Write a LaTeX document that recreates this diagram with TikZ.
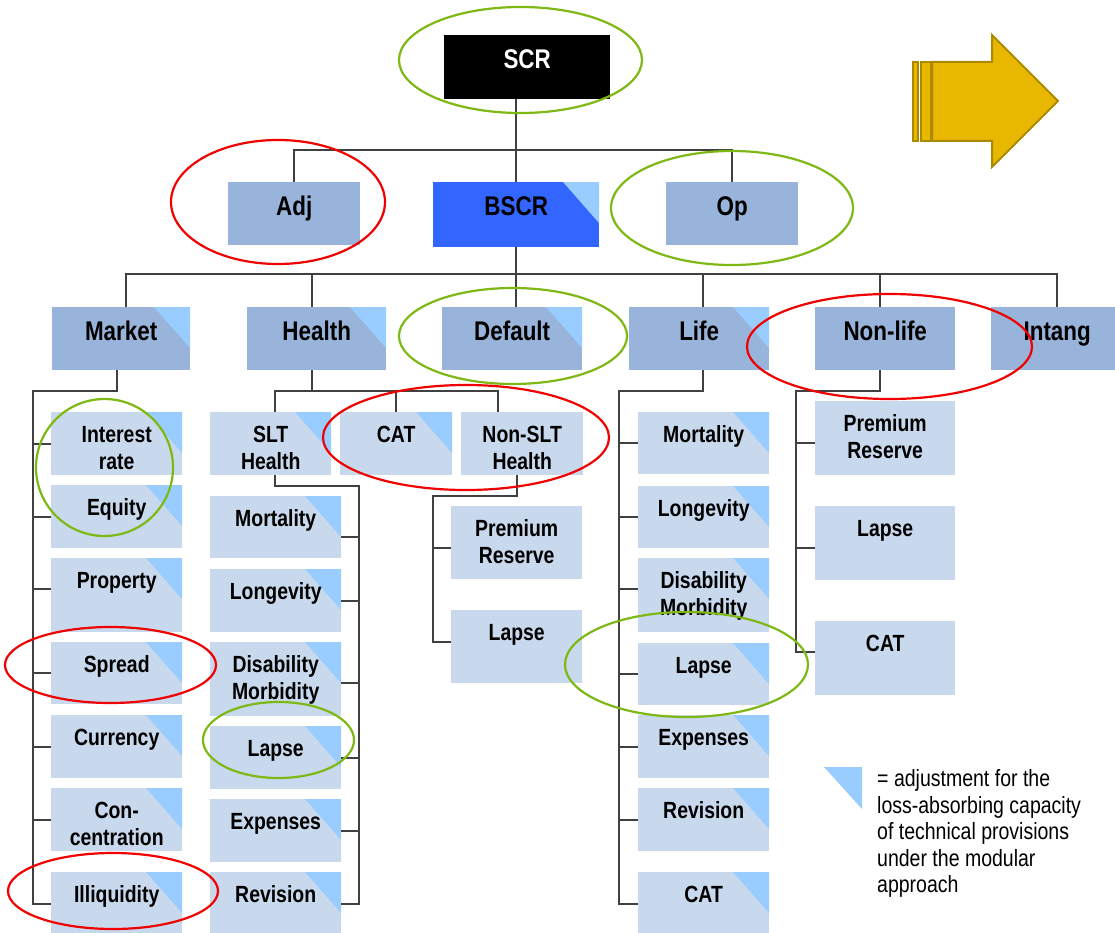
\documentclass[tikz,border=0pt]{standalone}
\usepackage{fontspec}
\setmainfont{Liberation Sans}[FakeStretch=0.83]
\definecolor{topc}{HTML}{99B4DB}
\definecolor{subc}{HTML}{C9D9ED}
\definecolor{cornc}{HTML}{99CCFF}
\definecolor{bscrc}{HTML}{3366FF}
\definecolor{linec}{HTML}{404040}
\definecolor{okc}{HTML}{7DB814}
\definecolor{badc}{HTML}{F00000}
\definecolor{arrowc}{HTML}{E8B700}
\definecolor{arrowedge}{HTML}{AC8A00}
\begin{document}
\begin{tikzpicture}[x=1pt,y=-1pt,
  toplvl/.style={anchor=north west, inner sep=0pt, fill=topc, align=center,
    text height=33pt, text depth=30pt, font=\fontsize{27}{30}\selectfont\bfseries},
  sublvl/.style={anchor=north west, inner sep=0pt, fill=subc, align=center,
    minimum width=131pt, text height=30.5pt, text depth=32.5pt,
    font=\fontsize{23.4}{26.5}\selectfont\bfseries},
  twolines/.style={text height=57pt, text depth=#1},
  tri/.style={path picture={\fill[cornc] (path picture bounding box.north east)
    -- ++(-36pt,0pt) -- ++(36pt,-41pt) -- cycle;}},
  link/.style={draw=linec, line width=1.6pt},
  okring/.style={draw=okc, line width=2.2pt},
  badring/.style={draw=badc, line width=2.2pt},
  arrowpart/.style={fill=arrowc, draw=arrowedge, line width=2pt, line join=miter}
]
\useasboundingbox (0,0) rectangle (1115,933);
\fill[white] (0,0) rectangle (1115,933);

% ---------- top levels ----------
\node[toplvl, fill=black, text=white, minimum width=166pt, text height=33.5pt, text depth=30.5pt] (scr) at (444,35) {SCR};
\node[toplvl, minimum width=132pt] (adj) at (228,182) {Adj};
\node[toplvl, fill=bscrc, tri, minimum width=166pt, text depth=32pt] (bscr) at (433,182) {BSCR};
\node[toplvl, minimum width=132pt] (op) at (666,182) {Op};

\node[toplvl, tri, minimum width=138pt] (market) at (52,307) {Market};
\node[toplvl, tri, minimum width=139pt] (health) at (247,307) {Health};
\node[toplvl, tri, minimum width=140pt] (default) at (442,307) {Default};
\node[toplvl, tri, minimum width=140pt] (life) at (629,307) {Life};
\node[toplvl, minimum width=140pt] (nonlife) at (815,307) {Non-life};
\node[toplvl, minimum width=132pt] (intang) at (991,307) {Intang};

% ---------- market ----------
\node[sublvl, tri, twolines=6pt] (interest) at (51,412) {Interest\\rate};
\node[sublvl, tri] (equity) at (51,485) {Equity};
\node[sublvl, tri, text depth=43.5pt] (prop) at (51,558) {Property};
\node[sublvl, tri, text depth=31.5pt] (spread) at (51,642) {Spread};
\node[sublvl, tri] (currency) at (51,715) {Currency};
\node[sublvl, tri, twolines=6pt] (conc) at (51,788) {Con-\\centration};
\node[sublvl, tri] (illiq) at (51,872) {Illiquidity};

% ---------- health ----------
\node[sublvl, tri, minimum width=121pt, twolines=6pt] (slt) at (210,412) {SLT\\Health};
\node[sublvl, tri, minimum width=112pt] (hcat) at (340,412) {CAT};
\node[sublvl, minimum width=122pt, twolines=6pt] (nonslt) at (461,412) {Non-SLT\\Health};

\node[sublvl, tri, text depth=31.5pt] (hmort) at (210,496) {Mortality};
\node[sublvl, tri] (hlong) at (210,569) {Longevity};
\node[sublvl, tri, twolines=17pt] (hdis) at (210,642) {Disability\\Morbidity};
\node[sublvl, tri] (hlapse) at (210,726) {Lapse};
\node[sublvl, tri] (hexp) at (210,799) {Expenses};
\node[sublvl, tri] (hrev) at (210,872) {Revision};

\node[sublvl, twolines=16pt] (nspr) at (451,506) {Premium\\Reserve};
\node[sublvl, text depth=42.5pt] (nslapse) at (451,610) {Lapse};

% ---------- life ----------
\node[sublvl, tri, text depth=31.5pt] (lmort) at (638,412) {Mortality};
\node[sublvl, tri, text depth=31.5pt] (llong) at (638,486) {Longevity};
\node[sublvl, tri, twolines=17pt] (ldis) at (638,558) {Disability\\Morbidity};
\node[sublvl, tri, text depth=31.5pt] (llapse) at (638,643) {Lapse};
\node[sublvl, tri] (lexp) at (638,715) {Expenses};
\node[sublvl, tri] (lrev) at (638,788) {Revision};
\node[sublvl, tri] (lcat) at (638,872) {CAT};

% ---------- non-life ----------
\node[sublvl, minimum width=140pt, twolines=17pt] (nlpr) at (815,401) {Premium\\Reserve};
\node[sublvl, minimum width=140pt, text depth=43.5pt] (nllapse) at (815,506) {Lapse};
\node[sublvl, minimum width=140pt, text depth=43.5pt] (nlcat) at (815,621) {CAT};

% ---------- connectors ----------
\coordinate (bar1) at (517,150);
\coordinate (bar2) at (517,274);
\draw[link] (scr.south -| bscr.north) -- (bscr.north);
\draw[link] (adj.north) |- (bar1) -| (op.north);
\draw[link] (bscr.south) -- (bscr.south |- default.north);
\draw[link] ([xshift=5pt]market.north) |- (bar2) -| (intang.north);
\draw[link] ([xshift=-4.5pt]health.north) -- ([xshift=-4.5pt]health.north |- bar2);
\draw[link] ([xshift=4pt]life.north) -- ([xshift=4pt]life.north |- bar2);
\draw[link] ([xshift=-5pt]nonlife.north) -- ([xshift=-5pt]nonlife.north |- bar2);

% market branch
\coordinate (mtrunk) at (33,391);
\draw[link] ([xshift=-4pt]market.south) |- (mtrunk) |- (illiq.west);
\foreach \n in {interest,equity,spread,currency,conc}
  \draw[link] (\n.west -| mtrunk) -- (\n.west);
\draw[link] ([yshift=6pt]prop.west -| mtrunk) -- ([yshift=6pt]prop.west);

% health branch
\coordinate (hbar) at (312,391);
\draw[link] ([xshift=-4.5pt]health.south) -- ([xshift=-4.5pt]health.south |- hbar);
\draw[link] ([xshift=4.5pt]slt.north) |- (hbar) -| ([xshift=-24pt]nonslt.north);
\draw[link] (hcat.north) -- (hcat.north |- hbar);

\coordinate (strunk) at (359,486);
\draw[link] ([xshift=4.5pt]slt.south) |- (strunk) |- (hrev.east);
\draw[link] ([yshift=-10pt]hmort.east -| strunk) -- ([yshift=-10pt]hmort.east);
\draw[link] (hlong.east -| strunk) -- (hlong.east);
\draw[link] ([yshift=-4pt]hdis.east -| strunk) -- ([yshift=-4pt]hdis.east);
\draw[link] (hlapse.east -| strunk) -- (hlapse.east);
\draw[link] (hexp.east -| strunk) -- (hexp.east);

\coordinate (ntrunk) at (433,496);
\draw[link] ([xshift=-5pt]nonslt.south) |- (ntrunk) |- ([yshift=4.5pt]nslapse.west);
\draw[link] ([yshift=-5.5pt]nspr.west -| ntrunk) -- ([yshift=-5.5pt]nspr.west);

% life branch
\coordinate (ltrunk) at (619,391);
\draw[link] ([xshift=4pt]life.south) |- (ltrunk) |- (lcat.west);
\foreach \n in {lmort,llong,llapse,lexp,lrev}
  \draw[link] (\n.west -| ltrunk) -- (\n.west);
\draw[link] ([yshift=6pt]ldis.west -| ltrunk) -- ([yshift=6pt]ldis.west);

% non-life branch
\coordinate (nltrunk) at (796,391);
\draw[link] ([xshift=-5pt]nonlife.south) |- (nltrunk) |- ([yshift=6pt]nlcat.west);
\draw[link] ([yshift=-5pt]nlpr.west -| nltrunk) -- ([yshift=-5pt]nlpr.west);
\draw[link] ([yshift=-5pt]nllapse.west -| nltrunk) -- ([yshift=-5pt]nllapse.west);

% ---------- highlight rings ----------
\draw[okring] (520.5,60) ellipse [x radius=121.5pt, y radius=53pt];
\draw[badring] (278,202) ellipse [x radius=107pt, y radius=62pt];
\draw[okring] (732,208) ellipse [x radius=121pt, y radius=57pt];
\draw[okring] (513,336) ellipse [x radius=114pt, y radius=48pt];
\draw[badring] (889.5,346.5) ellipse [x radius=142.5pt, y radius=52.5pt];
\draw[badring] (466,437.5) ellipse [x radius=143pt, y radius=52.5pt];
\draw[okring] (104.5,467.5) ellipse [x radius=68.5pt, y radius=68.5pt];
\draw[badring] (110.5,665) ellipse [x radius=105.5pt, y radius=38pt];
\draw[badring] (113,891) ellipse [x radius=105pt, y radius=38pt];
\draw[okring] (278.5,740) ellipse [x radius=75.5pt, y radius=38pt];
\draw[okring] (686.5,664.5) ellipse [x radius=121.5pt, y radius=52.5pt];

% ---------- legend ----------
\fill[cornc] (824,767) -- (862,767) -- (862,809) -- cycle;
\node[anchor=north west, inner sep=0pt, align=left, text height=126pt, text depth=6pt,
      font=\fontsize{23.5}{26.5}\selectfont] (legend) at (877,766.5)
  {= adjustment for the\\loss-absorbing capacity\\of technical provisions\\under the modular\\approach};

% ---------- arrow ----------
\draw[arrowpart] (913,62) rectangle (918,141);
\draw[arrowpart] (921,62) rectangle (931,141);
\draw[arrowpart] (932,62) -- (992,62) -- (992,35) -- (1058,101) -- (992,167) -- (992,141) -- (932,141) -- cycle;
\end{tikzpicture}
\end{document}
